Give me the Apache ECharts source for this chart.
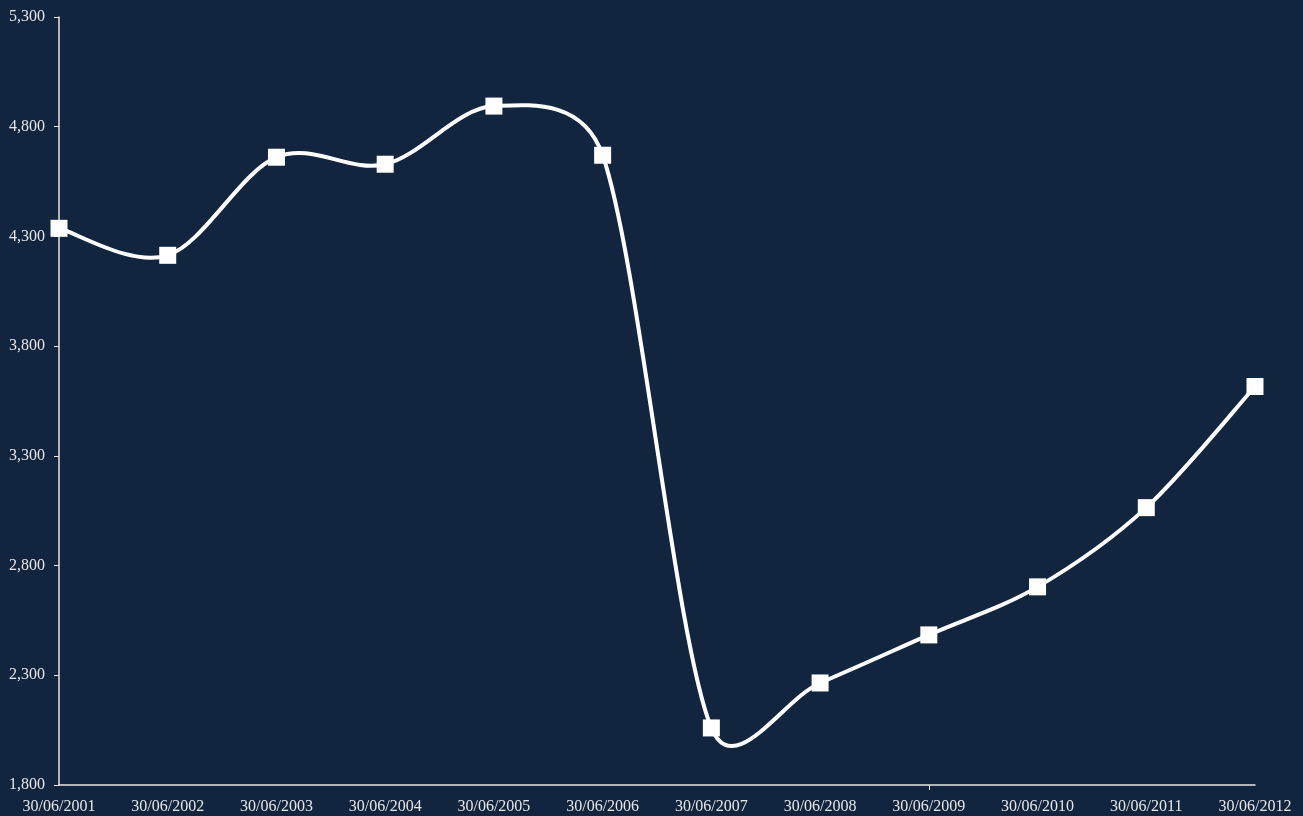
<!DOCTYPE html>
<html>
<head>
<meta charset="utf-8">
<script src="https://cdn.jsdelivr.net/npm/echarts@6/dist/echarts.min.js"></script>
<style>
html,body{margin:0;padding:0;background:#11253f;}
#main{width:1303px;height:816px;}
</style>
</head>
<body>
<div id="main"></div>
<script>
const categories = ["30/06/2001","30/06/2002","30/06/2003","30/06/2004","30/06/2005","30/06/2006","30/06/2007","30/06/2008","30/06/2009","30/06/2010","30/06/2011","30/06/2012"];
const values = [4337, 4214, 4661, 4629, 4894, 4670, 2060, 2265, 2484, 2703, 3064, 3616];
const yTicks = { min: 1800, max: 5300, interval: 500 };

const chart = echarts.init(document.getElementById('main'));
const textStyle = { color: '#e6e6e6', fontFamily: 'Liberation Serif', fontSize: 16 };

// Spreadsheet-style smoothed line: Bezier segments whose control arms are
// 1/6 of the neighbour chord, capped at half of the segment length.
function renderSegment(params, api) {
  const i = params.dataIndex;
  const n = values.length;
  if (i >= n - 1) return null;
  const clamp = k => Math.max(0, Math.min(n - 1, k));
  const p = k => api.coord([clamp(k), values[clamp(k)]]);
  const dist = (a, b) => Math.hypot(a[0] - b[0], a[1] - b[1]);
  const p0 = p(i - 1), p1 = p(i), p2 = p(i + 1), p3 = p(i + 2);
  const d12 = dist(p1, p2);
  const d02 = dist(p0, p2), d13 = dist(p1, p3);
  const f1 = d02 > 0 ? Math.min(1 / 6, d12 / (2 * d02)) : 0;
  const f2 = d13 > 0 ? Math.min(1 / 6, d12 / (2 * d13)) : 0;
  return {
    type: 'bezierCurve',
    shape: {
      x1: p1[0], y1: p1[1], x2: p2[0], y2: p2[1],
      cpx1: p1[0] + (p2[0] - p0[0]) * f1, cpy1: p1[1] + (p2[1] - p0[1]) * f1,
      cpx2: p2[0] - (p3[0] - p1[0]) * f2, cpy2: p2[1] - (p3[1] - p1[1]) * f2
    },
    style: { stroke: '#ffffff', lineWidth: 4, fill: null, lineCap: 'round' }
  };
}

chart.setOption({
  backgroundColor: '#11253f',
  animation: false,
  grid: { left: 59, right: 48, top: 17, bottom: 31, containLabel: false },
  xAxis: {
    type: 'category',
    data: categories,
    boundaryGap: false,
    axisLine: { lineStyle: { color: '#e6e6e6', width: 1.5 } },
    axisTick: { show: true, length: 5, interval: function (i) { return i === 8; }, lineStyle: { color: '#e6e6e6' } },
    axisLabel: Object.assign({ interval: 0, margin: 14 }, textStyle),
    splitLine: { show: false }
  },
  yAxis: {
    type: 'value',
    min: yTicks.min, max: yTicks.max, interval: yTicks.interval,
    axisLine: { show: true, lineStyle: { color: '#e6e6e6', width: 1.5 } },
    axisTick: { show: true, length: 5, inside: false, lineStyle: { color: '#e6e6e6' } },
    axisLabel: Object.assign({ margin: 14, formatter: v => v.toLocaleString('en-US') }, textStyle),
    splitLine: { show: false }
  },
  series: [{
    type: 'custom',
    data: values.map((v, i) => [i, v]),
    renderItem: renderSegment,
    z: 2
  }, {
    type: 'line',
    data: values,
    symbol: 'rect',
    symbolSize: 17,
    showAllSymbol: true,
    lineStyle: { opacity: 0 },
    itemStyle: { color: '#ffffff' },
    z: 3
  }]
});
</script>
</body>
</html>
